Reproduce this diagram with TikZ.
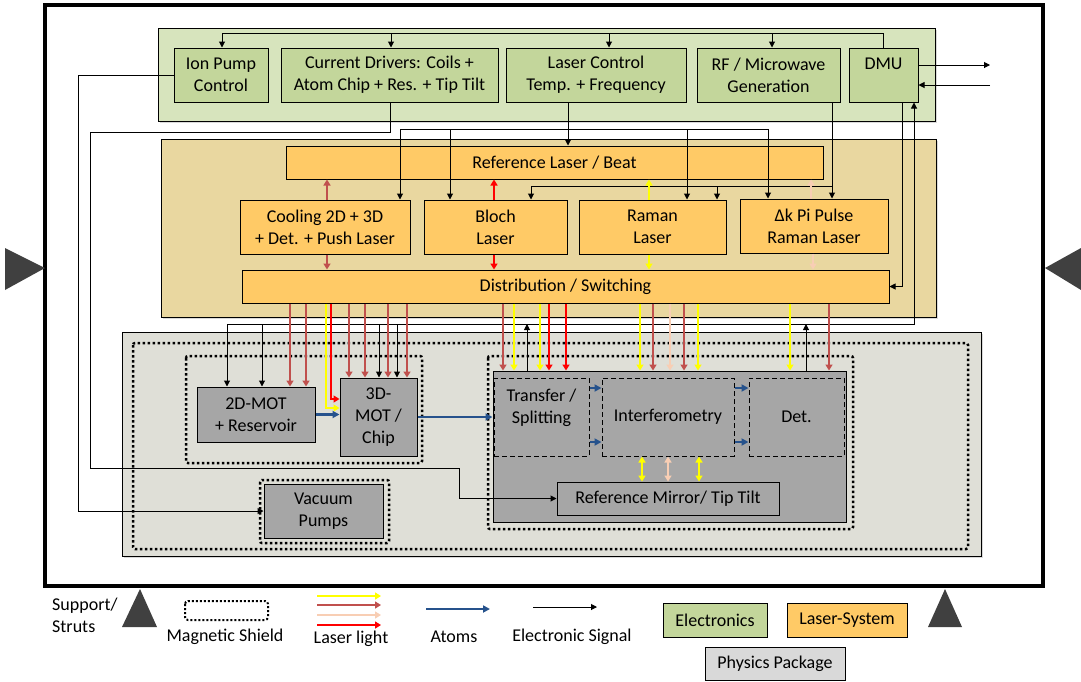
\documentclass[tikz,border=0pt]{standalone}
\usepackage{fontspec}
\setmainfont{Carlito}
\usepackage{tikz}
\usetikzlibrary{arrows.meta,shadows}
\definecolor{elec region}{RGB}{215,228,189}
\definecolor{elec box}{RGB}{195,214,155}
\definecolor{laser region}{RGB}{233,215,160}
\definecolor{laser box}{RGB}{255,202,102}
\definecolor{phys region}{RGB}{223,223,215}
\definecolor{phys box}{RGB}{166,166,166}
\definecolor{phys key}{RGB}{217,217,217}
\definecolor{cool red}{RGB}{192,80,77}
\definecolor{bloch red}{RGB}{255,0,0}
\definecolor{raman yellow}{RGB}{255,255,0}
\definecolor{pulse peach}{RGB}{248,206,180}
\definecolor{atom blue}{RGB}{38,82,140}
\definecolor{strut gray}{RGB}{64,64,64}
\tikzset{
  region/.style={draw=black, line width=0.8pt, drop shadow={shadow xshift=2pt, shadow yshift=-2pt, opacity=0.3}},
  box/.style={draw=black, line width=1pt, inner sep=0pt, align=center},
  ebox/.style={box, fill=elec box},
  lbox/.style={box, fill=laser box},
  pbox/.style={box, fill=phys box},
  subbox/.style={box, dash pattern=on 5pt off 3pt},
  shield/.style={line width=2.5pt, dash pattern=on 2.5pt off 2.5pt},
  wire/.style={line width=1pt},
  sig/.style={line width=1pt, -{Triangle[width=6pt,length=6pt]}},
  beam/.style={line width=2.5pt, -{Triangle[width=7pt,length=6pt]}},
  beamtwo/.style={line width=2.5pt, {Triangle[width=7pt,length=6pt]}-{Triangle[width=7pt,length=6pt]}},
  flow/.style={line width=2.2pt, color=atom blue, -{Triangle[width=7pt,length=7pt]}},
  strut/.style={fill=strut gray},
}
\begin{document}
\begin{tikzpicture}[x=1pt, y=-1pt, every node/.style={font=\fontsize{18}{22}\selectfont}]
\useasboundingbox (0,0) rectangle (1081,681);
% frame and supports
\draw[line width=4pt] (45,5) rectangle (1043,586);
\fill[strut] (5,248) -- (45,268) -- (5,290) -- cycle;
\fill[strut] (1081,248) -- (1045,268) -- (1081,290) -- cycle;
\fill[strut] (122,627) -- (140,589) -- (157,627) -- cycle;
\fill[strut] (928,627) -- (945,589) -- (962,627) -- cycle;
% regions
\filldraw[region, fill=elec region] (158,28) rectangle (935,121);
\filldraw[region, fill=laser region] (161,139) rectangle (936,317);
\filldraw[region, fill=phys region] (122,332) rectangle (981,556);
% electronics
\node[ebox, minimum width=94pt, minimum height=54pt] (ionpump) at (221,75) {Ion Pump\\Control};
\node[ebox, minimum width=217pt, minimum height=54pt] (drivers) at (389.5,75) {Current Drivers: Coils +\\Atom Chip + Res. + Tip Tilt};
\node[ebox, minimum width=180pt, minimum height=54pt] (laserctl) at (596,75) {Laser Control\\Temp. + Frequency};
\node[ebox, minimum width=143pt, minimum height=54pt] (rfgen) at (768.5,75) {RF / Microwave\\Generation};
\node[ebox, minimum width=69pt, minimum height=54pt] (dmu) at (883.5,75) {DMU\\\mbox{}};
% laser system
\node[lbox, minimum width=537pt, minimum height=33pt] (reflaser) at (554.5,162.5) {Reference Laser / Beat};
\node[lbox, minimum width=170pt, minimum height=54pt] (cooling) at (325,227) {Cooling 2D + 3D\\+ Det. + Push Laser};
\node[lbox, minimum width=143pt, minimum height=54pt] (bloch) at (495.5,227) {Bloch\\Laser};
\node[lbox, minimum width=147pt, minimum height=54pt] (raman) at (652.5,227) {Raman\\Laser};
\node[lbox, minimum width=148pt, minimum height=54pt] (dk) at (814,226) {Δk Pi Pulse\\Raman Laser};
\node[lbox, minimum width=647pt, minimum height=33pt] (dist) at (565.5,286.5) {Distribution / Switching};
% magnetic shields
\draw[shield, rounded corners=2pt] (133,343) rectangle (968,549);
\draw[shield, rounded corners=2pt] (186,356) rectangle (422,463);
\draw[shield, rounded corners=2pt] (260,480) rectangle (389,543);
\draw[shield, rounded corners=2pt] (488,356) rectangle (853,529);
% physics package
\node[pbox, minimum width=118pt, minimum height=55pt] (mot2d) at (256,414.5) {2D-MOT\\+ Reservoir};
\node[pbox, minimum width=77pt, minimum height=78pt] (mot3d) at (378.5,417) {3D-\\MOT /\\Chip};
\node[pbox, minimum width=119pt, minimum height=54pt] (vacuum) at (323.5,511) {Vacuum\\Pumps};
\node[pbox, minimum width=353pt, minimum height=151pt] (interf) at (669.5,446.5) {};
\node[subbox, minimum width=95pt, minimum height=78pt] (transfer) at (541.5,417) {Transfer /\\Splitting\\\mbox{}};
\node[subbox, minimum width=132pt, minimum height=78pt] (ifm) at (668,417) {Interferometry};
\node[subbox, minimum width=95pt, minimum height=78pt] (det) at (796.5,417) {Det.};
\node[box, minimum width=222pt, minimum height=33pt] (refmirror) at (668,498.5) {Reference Mirror/ Tip Tilt};
% electronic signals
\draw[wire] (883,0 |- dmu.north) |- (222,33);
\foreach \x/\n in {222/ionpump,391/drivers,609/laserctl,772/rfgen}
  \draw[sig] (\x,33) -- (\x,0 |- \n.north);
\coordinate (dmuout) at (990,65);
\coordinate (dmuin) at (990,85);
\draw[sig] (dmu.east |- dmuout) -- (dmuout);
\draw[sig] (dmuin) -- (dmu.east |- dmuin);
\draw[sig] (ionpump.west) -| (78,0 |- vacuum.west) -- (vacuum.west);
\draw[sig] (390,0 |- drivers.south) -- (390,132) -| (90,468) -| (459,0 |- refmirror.west) -- (refmirror.west);
\draw[sig] (568,0 |- laserctl.south) -- (568,0 |- reflaser.north);
\draw[wire] (400,129) -- (768,129);
\foreach \x/\n in {400/cooling,450/bloch,687/raman,768/dk}
  \draw[sig] (\x,129) -- (\x,0 |- \n.north);
\draw[sig] (832,0 |- rfgen.south) -- (832,0 |- dk.north);
\draw[wire] (832,186) -- (531,186);
\foreach \x/\n in {531/bloch,717/raman}
  \draw[sig] (\x,186) -- (\x,0 |- \n.north);
\draw[sig] (902,0 |- dmu.south) |- (dist.east);
\draw[sig] (227,324) -| (914,0 |- dmu.south);
\foreach \x/\n in {227/mot2d,262/mot2d,379/mot3d,397/mot3d}
  \draw[sig] (\x,324) -- (\x,0 |- \n.north);
\foreach \x in {527,806}
  \draw[sig] (\x,0 |- interf.north) -- (\x,324);
% laser light
\draw[beam, color=cool red] (327,0 |- cooling.north) -- (327,0 |- reflaser.south);
\draw[beam, color=cool red] (327,0 |- cooling.south) -- (327,0 |- dist.north);
\draw[beam, color=bloch red] (494,0 |- bloch.north) -- (494,0 |- reflaser.south);
\draw[beam, color=bloch red] (494,0 |- bloch.south) -- (494,0 |- dist.north);
\draw[beam, color=raman yellow] (649,0 |- raman.north) -- (649,0 |- reflaser.south);
\draw[beam, color=raman yellow] (649,0 |- raman.south) -- (649,0 |- dist.north);
\draw[beam, color=pulse peach] (811,0 |- dk.north) -- (811,0 |- reflaser.south);
\draw[beam, color=pulse peach] (813,0 |- dk.south) -- (813,0 |- dist.north);
\foreach \x in {290,306}
  \draw[beam, color=cool red] (\x,0 |- dist.south) -- (\x,0 |- mot2d.north);
\draw[beam, color=raman yellow] (326,0 |- dist.south) |- ([yshift=9pt]mot3d.west);
\draw[beam, color=bloch red] (331,0 |- dist.south) |- ([yshift=18pt]mot3d.west);
\foreach \x in {349,365,388,407}
  \draw[beam, color=cool red] (\x,0 |- dist.south) -- (\x,0 |- mot3d.north);
\foreach \x/\c in {503/cool red,514/raman yellow,540/raman yellow,549/bloch red,566/bloch red,640/raman yellow,653/cool red,670/pulse peach,684/cool red,698/raman yellow,790/raman yellow,829/cool red}
  \draw[beam, color=\c] (\x,0 |- dist.south) -- (\x,0 |- interf.north);
\foreach \x/\c in {642/raman yellow,668/pulse peach,699/raman yellow}
  \draw[beamtwo, color=\c] (\x,0 |- ifm.south) -- (\x,0 |- refmirror.north);
% atoms
\draw[flow] (mot2d.east) -- (mot3d.west |- mot2d.east);
\draw[flow] (mot3d.east) -- (interf.west |- mot3d.east);
\foreach \y in {388,442} {
  \draw[flow, line width=2pt] (transfer.east |- 0,\y) -- (ifm.west |- 0,\y);
  \draw[flow, line width=2pt] (ifm.east |- 0,\y) -- (det.west |- 0,\y);
}
% legend
\node[anchor=west, align=left, inner sep=0pt] (strutkey) at (52,615) {Support/\\Struts};
\draw[line width=2pt, dash pattern=on 2pt off 2pt, rounded corners=3pt] (185,601) rectangle (268,620);
\node (shieldkey) at (225,637) {Magnetic Shield};
\foreach \y/\c in {596/raman yellow,605/cool red,615/pulse peach,625/bloch red}
  \draw[beam, line width=2pt, color=\c] (317,\y) -- (381,\y);
\node (laserkey) at (351,639) {Laser light};
\draw[flow] (426,609) -- (490,609);
\node (atomkey) at (454,637) {Atoms};
\draw[sig] (533,607) -- (597,607);
\node (signalkey) at (572,637) {Electronic Signal};
\node[ebox, minimum width=104pt, minimum height=34pt] (eleckey) at (715,620) {Electronics};
\node[lbox, minimum width=120pt, minimum height=34pt] (laserbox) at (847,620) {Laser-System};
\node[box, fill=phys key, minimum width=140pt, minimum height=33pt] (physkey) at (775,664) {Physics Package};
\end{tikzpicture}
\end{document}
